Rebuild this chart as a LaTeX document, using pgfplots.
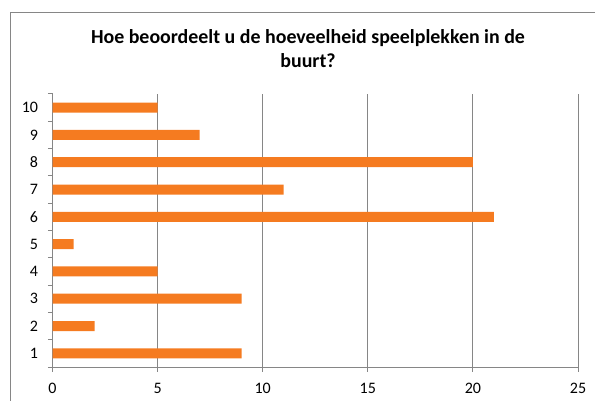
\documentclass[border=0pt]{standalone}
\usepackage{pgfplots}
\pgfplotsset{compat=1.18}
\usepackage{fontspec}
\setmainfont{Carlito}
\definecolor{barorange}{RGB}{245,123,32}
\definecolor{gridgray}{RGB}{134,134,134}

\begin{document}
\begin{tikzpicture}
\useasboundingbox (0,0) rectangle (595bp,401bp);
% chart frame (only top and left edges show)
\draw[gridgray, line width=1bp] (10bp,0) -- (10bp,388bp) -- (595bp,388bp);
\node[font=\bfseries\fontsize{19.9bp}{22bp}\selectfont, anchor=base, inner sep=0pt]
  at (308bp,357.7bp) {Hoe beoordeelt u de hoeveelheid speelplekken in de};
\node[font=\bfseries\fontsize{19.9bp}{22bp}\selectfont, anchor=base, inner sep=0pt]
  at (308bp,333.3bp) {buurt?};
\begin{axis}[
    at={(52.5bp,34bp)}, anchor=south west,
    scale only axis, width=525.5bp, height=273bp,
    xbar, bar width=10bp,
    xmin=0, xmax=25, ymin=0.5, ymax=10.5,
    xtick={0,5,...,25},
    minor xtick={0,5,...,25},
    ytick={1,...,10},
    minor ytick={0.5,1.5,...,10.5},
    axis x line*=bottom, axis y line*=left,
    axis line style={-, gridgray, line width=1bp},
    tick align=outside,
    major tick length=0pt, minor tick length=4.5bp,
    every tick/.style={gridgray, line width=1bp},
    xmajorgrids, grid style={gridgray, line width=1bp},
    /pgf/number format/assume math mode=true,
    tick label style={font=\fontsize{16bp}{18bp}\selectfont},
    xticklabel style={yshift=-13bp},
    yticklabel style={xshift=-11bp},
]
\addplot[fill=barorange, draw=none] coordinates {
    (9,1) (2,2) (9,3) (5,4) (1,5) (21,6) (11,7) (20,8) (7,9) (5,10)
};
\end{axis}
\end{tikzpicture}
\end{document}
